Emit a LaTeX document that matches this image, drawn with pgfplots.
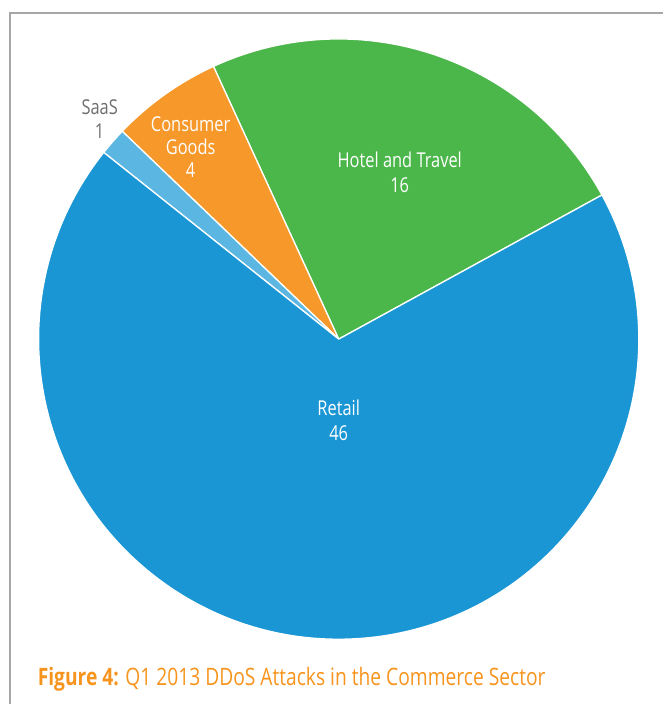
\documentclass[border=0pt]{standalone}
\usepackage{pgfplots}
\pgfplotsset{compat=1.18}
\usepackage{pgfplotstable}
\usepackage{fontspec}
\setmainfont[FakeStretch=0.8]{Open Sans}
\definecolor{retail}{HTML}{1A96D4}
\definecolor{hotel}{HTML}{4BB649}
\definecolor{consumer}{HTML}{F7982A}
\definecolor{saas}{HTML}{5BB6E1}
\definecolor{capor}{HTML}{F7941D}
\definecolor{framegray}{HTML}{A6A6A6}
\definecolor{labgray}{HTML}{6E6E6E}
% slices in counter-clockwise order, starting at 28.7 degrees
\pgfplotstableread{
value color
16 hotel
4 consumer
1 saas
46 retail
}\piedata
\begin{document}
\begin{tikzpicture}
\begin{axis}[
  scale only axis, width=661pt, height=705pt,
  xmin=0, xmax=661, ymin=0, ymax=705,
  hide axis, clip=false]
% frame
\draw[framegray, line width=1.5pt] (axis cs:8.5,0) -- (axis cs:8.5,691) -- (axis cs:661,691);
% total
\def\total{0}
\pgfplotsforeachungrouped \i in {0,...,3}{%
  \pgfplotstablegetelem{\i}{value}\of\piedata
  \pgfmathsetmacro\total{\total+\pgfplotsretval}%
}
\def\cur{28.7}
\pgfplotsforeachungrouped \i in {0,...,3}{%
  \pgfplotstablegetelem{\i}{value}\of\piedata
  \let\v\pgfplotsretval
  \pgfplotstablegetelem{\i}{color}\of\piedata
  \let\c\pgfplotsretval
  \pgfmathsetmacro\a{\cur}%
  \pgfmathsetmacro\b{\cur+\v*(360/\total)}%
  \edef\temp{\noexpand\fill[\c, draw=white, line width=1.3pt, line join=round]
    (axis cs:337,365) -- ++(\a:300pt) arc[start angle=\a, end angle=\b, radius=300pt] -- cycle;}%
  \temp
  \let\cur\b
}
% labels
\node[white, align=center, font=\fontsize{20.5}{25}\selectfont] at (axis cs:398,532) {Hotel and Travel\\16};
\node[white, align=center, font=\fontsize{20.5}{25}\selectfont] at (axis cs:337,284) {Retail\\46};
\node[white, align=center, font=\fontsize{20.5}{23}\selectfont] at (axis cs:189,557) {Consumer\\Goods\\4};
\node[labgray, align=center, font=\fontsize{20.5}{24}\selectfont] at (axis cs:98,585) {SaaS\\1};
% caption
\node[capor, anchor=base west, inner sep=0pt, font=\fontsize{24}{28}\selectfont] at (axis cs:36,19) {\textbf{Figure 4:} Q1 2013 DDoS Attacks in the Commerce Sector};
\end{axis}
\end{tikzpicture}
\end{document}
